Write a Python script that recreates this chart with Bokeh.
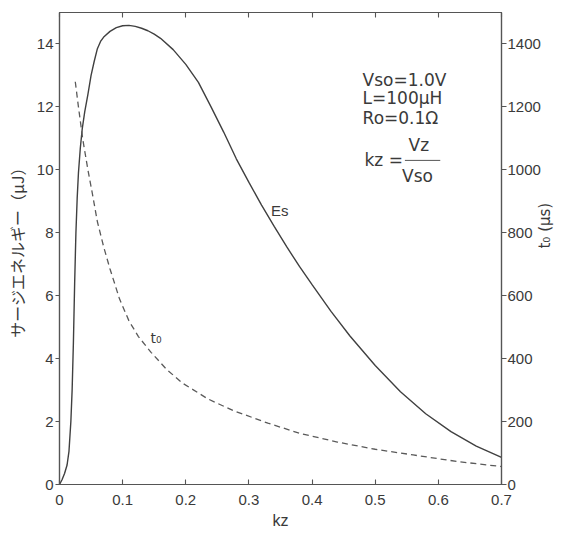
import math
from bokeh.plotting import figure
from bokeh.models import Range1d, LinearAxis, FixedTicker, Label, Arrow
from bokeh.embed import file_html
from bokeh.resources import INLINE

# ---- data ----
es_kz = [0, 0.004, 0.008, 0.012, 0.015, 0.018, 0.020, 0.022, 0.024, 0.026, 0.028, 0.030,
         0.033, 0.036, 0.040, 0.045, 0.050, 0.055, 0.060, 0.065, 0.070, 0.080, 0.090,
         0.100, 0.110, 0.120, 0.130, 0.140, 0.150, 0.160, 0.180, 0.200, 0.220, 0.240,
         0.260, 0.280, 0.300, 0.320, 0.340, 0.360, 0.380, 0.400, 0.430, 0.460, 0.500,
         0.540, 0.580, 0.620, 0.660, 0.700]
es_uj = [0, 0.15, 0.35, 0.62, 1.05, 2.0, 3.0, 4.5, 6.4, 8.0, 9.1, 9.9,
         10.7, 11.3, 11.85, 12.4, 13.0, 13.45, 13.85, 14.08, 14.22, 14.4, 14.52,
         14.58, 14.59, 14.56, 14.5, 14.42, 14.31, 14.18, 13.82, 13.35, 12.78, 12.0,
         11.2, 10.35, 9.6, 8.88, 8.2, 7.55, 6.93, 6.35, 5.5, 4.72, 3.78,
         2.95, 2.25, 1.68, 1.22, 0.86]

t0_kz = [0.025, 0.030, 0.037, 0.045, 0.052, 0.060, 0.070, 0.080, 0.095, 0.110, 0.125,
         0.145, 0.170, 0.195, 0.235, 0.275, 0.330, 0.380, 0.440, 0.500, 0.560, 0.630, 0.700]
t0_us = [1280, 1200, 1095, 1000, 925, 835, 755, 685, 590, 520, 470,
         420, 365, 322, 272, 235, 195, 163, 135, 112, 94, 73, 57]

x_ticks = [0, 0.1, 0.2, 0.3, 0.4, 0.5, 0.6, 0.7]
x_tick_labels = ["0", "0.1", "0.2", "0.3", "0.4", "0.5", "0.6", "0.7"]
y_ticks = [0, 2, 4, 6, 8, 10, 12, 14]
y2_ticks = [0, 200, 400, 600, 800, 1000, 1200, 1400]

TXT = "#3a3a3a"
FONT = "Liberation Sans"
AFONT = "DejaVu Sans"

p = figure(width=565, height=534, x_range=Range1d(0, 0.7), y_range=Range1d(0, 15),
           output_backend="svg", toolbar_location=None,
           min_border_left=59, min_border_right=63, min_border_top=12, min_border_bottom=50)
p.extra_y_ranges = {"t": Range1d(0, 1500)}
p.grid.visible = False
p.outline_line_color = "#555555"
p.outline_line_width = 1.2
p.background_fill_color = "white"
p.border_fill_color = "white"

def style_axis(ax, tin, tout, standoff):
    ax.axis_line_color = "#555555"
    ax.axis_line_width = 1.2
    ax.major_tick_line_color = "#555555"
    ax.major_tick_line_width = 1.1
    ax.major_tick_in = tin
    ax.major_tick_out = tout
    ax.minor_tick_line_color = None
    ax.major_label_standoff = standoff
    ax.major_label_text_font = FONT
    ax.major_label_text_font_size = "15px"
    ax.major_label_text_color = TXT
    ax.axis_label_text_color = TXT
    ax.axis_label_text_font_style = "normal"

xa = p.xaxis[0]
xa.ticker = FixedTicker(ticks=x_ticks)
xa.major_label_overrides = dict(zip(x_ticks, x_tick_labels))
style_axis(xa, 5, 0, 10)
xa.axis_label = "kz"
xa.axis_label_text_font = FONT
xa.axis_label_text_font_size = "16px"
xa.axis_label_standoff = 4

ya = p.yaxis[0]
ya.ticker = FixedTicker(ticks=y_ticks)
style_axis(ya, 0, 4, 2)
ya.axis_label = "サージエネルギー（μJ）"
ya.axis_label_text_font = "Noto Sans CJK JP"
ya.axis_label_text_font_size = "16px"
ya.axis_label_standoff = 5

ra = LinearAxis(y_range_name="t", ticker=FixedTicker(ticks=y2_ticks))
style_axis(ra, 0, 5, 1)
ra.axis_label = "t₀ (μs)"
ra.axis_label_text_font = AFONT
ra.axis_label_text_font_size = "15px"
ra.axis_label_standoff = 1
if "axis_label_orientation" in LinearAxis.properties():
    ra.axis_label_orientation = math.pi / 2
p.add_layout(ra, "right")

ta = LinearAxis(ticker=FixedTicker(ticks=x_ticks))
style_axis(ta, 5, 0, 0)
ta.major_label_text_font_size = "0px"
ta.major_label_text_color = None
p.add_layout(ta, "above")

# ---- curves ----
p.line(es_kz, es_uj, line_color="#404040", line_width=1.4)
p.line(t0_kz, t0_us, y_range_name="t", line_color="#5a5a5a", line_width=1.3, line_dash="6 4")

# ---- texts inside the frame ----
def lab(x, y, text, size="15px", align="left", font=AFONT):
    p.add_layout(Label(x=x, y=y, text=text, text_font=font, text_font_size=size,
                       text_color=TXT, text_align=align, text_baseline="middle"))

lab(0.335, 8.7, "Es", size="15px", font=FONT)
lab(0.153, 4.65, "t₀", size="14px", align="center")

lab(0.480, 12.87, "Vso=1.0V", size="17px")
lab(0.480, 12.27, "L=100μH", size="17px")
lab(0.480, 11.64, "Ro=0.1Ω", size="17px")
lab(0.483, 10.30, "kz =", size="17px")
lab(0.569, 10.78, "Vz", size="17px", align="center")
lab(0.567, 9.80, "Vso", size="17px", align="center")
p.add_layout(Arrow(end=None, x_start=0.547, y_start=10.30, x_end=0.603, y_end=10.30,
                   line_color="#555555", line_width=1))

open("out.html", "w").write(file_html(p, INLINE))
